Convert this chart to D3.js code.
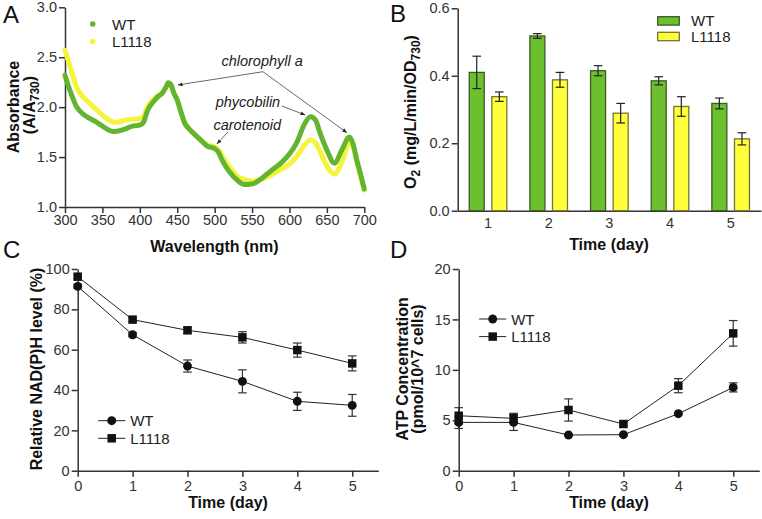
<!DOCTYPE html>
<html><head><meta charset="utf-8">
<script src="https://cdn.jsdelivr.net/npm/d3@7"></script>
<style>body{margin:0;background:#fff}text{font-family:'Liberation Sans',Arial,Helvetica,sans-serif}</style>
</head><body>
<svg id="chart" width="762" height="519"></svg>
<script>
// ---------- Panel A data ----------
const wavelengths = [300,305,310,315,320,330,340,350,360,365,370,380,390,400,405,410,420,425,430,435,438,442,445,450,455,460,465,470,480,490,500,505,510,520,530,540,550,560,570,580,590,600,610,620,628,635,640,650,660,670,680,685,690,695,700];
const absWT =    [2.32,2.20,2.10,2.01,1.96,1.90,1.86,1.81,1.765,1.755,1.76,1.78,1.81,1.82,1.85,1.96,2.07,2.11,2.14,2.20,2.245,2.22,2.15,2.07,1.95,1.84,1.79,1.75,1.68,1.61,1.585,1.55,1.47,1.35,1.27,1.225,1.23,1.27,1.33,1.39,1.45,1.53,1.65,1.83,1.905,1.87,1.76,1.57,1.44,1.57,1.70,1.63,1.47,1.33,1.18];
const absL1118 = [2.57,2.45,2.33,2.21,2.14,2.06,1.99,1.92,1.865,1.85,1.85,1.87,1.88,1.885,1.91,2.00,2.09,2.12,2.14,2.20,2.24,2.21,2.15,2.07,1.95,1.84,1.79,1.75,1.68,1.625,1.60,1.57,1.51,1.40,1.31,1.275,1.26,1.27,1.30,1.34,1.385,1.43,1.51,1.62,1.67,1.64,1.57,1.41,1.33,1.45,1.65,1.60,1.45,1.30,1.17];
const specTicksX = [300,350,400,450,500,550,600,650,700];
const specTicksY = [1.0,1.5,2.0,2.5,3.0];
const annotations = [
  {text:"chlorophyll a", tx:563.5, ty:2.412, anchor:"middle", arrows:[[564.5,2.355,450.8,2.222],[564.5,2.355,676.9,1.744]]},
  {text:"phycobilin", tx:587.6, ty:2.006, anchor:"end", arrows:[[589.9,2.012,621.1,1.921]]},
  {text:"carotenoid", tx:498.4, ty:1.771, anchor:"start", arrows:[[518.1,1.754,503,1.631]]}
];
// ---------- Panel B data ----------
const days = ["1","2","3","4","5"];
const o2WT = [0.41,0.518,0.415,0.385,0.318];
const o2WTerr = [0.048,0.007,0.015,0.012,0.016];
const o2L1118 = [0.338,0.388,0.289,0.309,0.213];
const o2L1118err = [0.014,0.022,0.029,0.029,0.018];
const o2Ticks = [0.0,0.2,0.4,0.6];
// ---------- Panel C data ----------
const timeDays = [0,1,2,3,4,5];
const nadWT = [91.4,67.4,51.9,44.3,34.4,32.4];
const nadWTerr = [1.0,1.0,3.0,5.7,4.5,5.4];
const nadL1118 = [96.2,74.9,69.6,66.1,59.8,53.2];
const nadL1118err = [1.0,1.0,1.5,2.8,3.5,3.7];
const nadTicks = [0,20,40,60,80,100];
// ---------- Panel D data ----------
const atpWT = [4.79,4.79,3.54,3.57,5.65,8.26];
const atpWTerr = [0.6,0.8,0.1,0.1,0.1,0.45];
const atpL1118 = [5.45,5.19,6.02,4.63,8.43,13.62];
const atpL1118err = [0.8,0.5,1.1,0.2,0.7,1.27];
const atpTicks = [0,5,10,15,20];

const green = "#63b52f", yellow = "#f4f43a";
const axisColor = "#333";
const svg = d3.select("#chart");

svg.append("defs").append("marker").attr("id","arr").attr("viewBox","0 0 10 10")
  .attr("refX",10).attr("refY",5).attr("markerWidth",6).attr("markerHeight",6).attr("orient","auto")
  .append("path").attr("d","M0,1L10,5L0,9Z").attr("fill","#222");

function styleAxis(g){
  g.selectAll("path,line").attr("stroke",axisColor).attr("stroke-width",1.5);
  g.selectAll("text").attr("fill","#333").attr("font-size","14.5px")
    .attr("font-family","'Liberation Sans',Arial,sans-serif");
}
function panelLetter(t,x,y){
  svg.append("text").attr("x",x).attr("y",y).attr("font-size","24px").attr("fill","#111").text(t);
}
function xTitle(t,x,y){
  svg.append("text").attr("x",x).attr("y",y).attr("text-anchor","middle").attr("font-size","16px")
    .attr("font-weight","bold").attr("fill","#111").text(t);
}

// ================= Panel A =================
{
  const x = d3.scaleLinear().domain([300,700]).range([65,364.3]);
  const y = d3.scaleLinear().domain([1,3]).range([207,7.3]);
  const ga = svg.append("g").attr("transform","translate(0,207)")
    .call(d3.axisBottom(x).tickValues(specTicksX).tickSize(6).tickPadding(2).tickSizeOuter(0));
  styleAxis(ga);
  const gl = svg.append("g").attr("transform","translate(65,0)")
    .call(d3.axisLeft(y).tickValues(specTicksY).tickFormat(d3.format(".1f")).tickSize(6).tickPadding(2).tickSizeOuter(0));
  styleAxis(gl);
  const line = d3.line().x((d,i)=>x(wavelengths[i])).y(d=>y(d)).curve(d3.curveMonotoneX);
  svg.append("path").datum(absL1118).attr("d",line).attr("fill","none").attr("stroke",yellow)
    .attr("stroke-width",5).attr("stroke-linecap","round").attr("stroke-linejoin","round");
  svg.append("path").datum(absWT).attr("d",line).attr("fill","none").attr("stroke",green)
    .attr("stroke-width",5).attr("stroke-linecap","round").attr("stroke-linejoin","round");
  // annotations
  annotations.forEach(a=>{
    svg.append("text").attr("x",x(a.tx)).attr("y",y(a.ty)).attr("text-anchor",a.anchor)
      .attr("font-size","14.5px").attr("font-style","italic").attr("fill","#222").text(a.text);
    a.arrows.forEach(r=>{
      svg.append("line").attr("x1",x(r[0])).attr("y1",y(r[1])).attr("x2",x(r[2])).attr("y2",y(r[3]))
        .attr("stroke","#444").attr("stroke-width",0.8).attr("marker-end","url(#arr)");
    });
  });
  // legend
  [["WT",green,24],["L1118",yellow,41.5]].forEach(([t,c,yy])=>{
    svg.append("circle").attr("cx",92.7).attr("cy",yy).attr("r",2.8).attr("fill",c);
    svg.append("text").attr("x",112).attr("y",yy+5.5).attr("font-size","15px").attr("fill","#222").text(t);
  });
  xTitle("Wavelength (nm)",214.5,251.5);
  const yt = svg.append("g").attr("transform","rotate(-90)");
  yt.append("text").attr("x",-107).attr("y",18.5).attr("text-anchor","middle").attr("font-size","16px")
    .attr("font-weight","bold").attr("fill","#111").text("Absorbance");
  const t2 = yt.append("text").attr("x",-105).attr("y",34.5).attr("text-anchor","middle").attr("font-size","16px")
    .attr("font-weight","bold").attr("fill","#111");
  t2.append("tspan").text("(A/A");
  t2.append("tspan").attr("font-size","12px").attr("dy",4).text("730");
  t2.append("tspan").attr("dy",-4).text(")");
  panelLetter("A",3,23);
}

// ================= Panel B =================
{
  const x = d3.scaleBand().domain(days).range([457.7,761]);
  const y = d3.scaleLinear().domain([0,0.6]).range([210.7,8.3]);
  const bw = 15, gap = 3.8;
  const gb = svg.append("g").attr("transform","translate(0,210.7)")
    .call(d3.axisBottom(x).tickSize(0).tickPadding(7));
  styleAxis(gb);
  const gl = svg.append("g").attr("transform","translate(457.7,0)")
    .call(d3.axisLeft(y).tickValues(o2Ticks).tickFormat(d3.format(".1f")).tickSize(6).tickPadding(2).tickSizeOuter(0));
  styleAxis(gl);
  const cx = d=>x(d)+x.bandwidth()/2;
  const series = [
    {vals:o2WT, err:o2WTerr, fill:"#6cbf2f", stroke:"#3f5a28", off:-gap-bw},
    {vals:o2L1118, err:o2L1118err, fill:"#ffff3c", stroke:"#74743a", off:gap}
  ];
  series.forEach(s=>{
    svg.append("g").selectAll("rect").data(days).join("rect")
      .attr("x",d=>cx(d)+s.off).attr("width",bw)
      .attr("y",(d,i)=>y(s.vals[i])).attr("height",(d,i)=>y(0)-y(s.vals[i]))
      .attr("fill",s.fill).attr("stroke",s.stroke).attr("stroke-width",1.3);
    const eg = svg.append("g").attr("stroke","#222").attr("stroke-width",1.2);
    days.forEach((d,i)=>{
      const mx = cx(d)+s.off+bw/2;
      eg.append("line").attr("x1",mx).attr("x2",mx).attr("y1",y(s.vals[i]-s.err[i])).attr("y2",y(s.vals[i]+s.err[i]));
      [s.vals[i]-s.err[i], s.vals[i]+s.err[i]].forEach(v=>{
        eg.append("line").attr("x1",mx-4.3).attr("x2",mx+4.3).attr("y1",y(v)).attr("y2",y(v));
      });
    });
  });
  // legend
  [["WT","#6cbf2f","#3f5a28",16.7],["L1118","#ffff3c","#74743a",32.3]].forEach(([t,f,s,yy])=>{
    svg.append("rect").attr("x",657.7).attr("y",yy).attr("width",21.6).attr("height",8.4)
      .attr("fill",f).attr("stroke",s).attr("stroke-width",1.3);
    svg.append("text").attr("x",691).attr("y",yy+9.5).attr("font-size","15px").attr("fill","#222").text(t);
  });
  xTitle("Time (day)",609,249.5);
  const yt = svg.append("g").attr("transform","rotate(-90)");
  const t = yt.append("text").attr("x",-112).attr("y",416).attr("text-anchor","middle").attr("font-size","16px")
    .attr("font-weight","bold").attr("fill","#111");
  t.append("tspan").text("O");
  t.append("tspan").attr("font-size","12px").attr("dy",4).text("2");
  t.append("tspan").attr("dy",-4).text(" (mg/L/min/OD");
  t.append("tspan").attr("font-size","12px").attr("dy",4).text("730");
  t.append("tspan").attr("dy",-4).text(")");
  panelLetter("B",390,22);
}

// ================= Panels C & D =================
function linePanel(opt){
  const x = d3.scaleLinear().domain([0,5.475]).range([opt.x0, opt.x0+300.6]);
  const y = d3.scaleLinear().domain([0,opt.ymax]).range([470.7,269]);
  const gb = svg.append("g").attr("transform","translate(0,470.7)")
    .call(d3.axisBottom(x).tickValues(timeDays).tickFormat(d3.format("d")).tickSize(6).tickPadding(4).tickSizeOuter(0));
  styleAxis(gb);
  const gl = svg.append("g").attr("transform",`translate(${opt.x0},0)`)
    .call(d3.axisLeft(y).tickValues(opt.ticks).tickSize(6).tickPadding(2).tickSizeOuter(0));
  styleAxis(gl);
  const ln = d3.line().x((d,i)=>x(timeDays[i])).y(d=>y(d));
  const sers = [
    {v:opt.wt, e:opt.wtErr, shape:"circle"},
    {v:opt.l, e:opt.lErr, shape:"square"}
  ];
  sers.forEach(s=>{
    svg.append("path").datum(s.v).attr("d",ln).attr("fill","none").attr("stroke","#222").attr("stroke-width",1);
  });
  sers.forEach(s=>{
    const eg = svg.append("g").attr("stroke","#333").attr("stroke-width",1.2);
    timeDays.forEach((d,i)=>{
      const mx = x(d), lo = y(s.v[i]-s.e[i]), hi = y(s.v[i]+s.e[i]);
      eg.append("line").attr("x1",mx).attr("x2",mx).attr("y1",lo).attr("y2",hi);
      [lo,hi].forEach(yy=>eg.append("line").attr("x1",mx-4.3).attr("x2",mx+4.3).attr("y1",yy).attr("y2",yy));
    });
  });
  sers.forEach(s=>{
    const sym = d3.symbol().type(s.shape==="circle"?d3.symbolCircle:d3.symbolSquare).size(s.shape==="circle"?62:72);
    svg.append("g").selectAll("path").data(s.v).join("path")
      .attr("transform",(d,i)=>`translate(${x(timeDays[i])},${y(d)})`).attr("d",sym).attr("fill","#111");
  });
  // legend
  [["WT",d3.symbolCircle,62,opt.ly],["L1118",d3.symbolSquare,72,opt.ly+17.6]].forEach(([t,sy,sz,yy])=>{
    svg.append("line").attr("x1",opt.lx-13.5).attr("x2",opt.lx+13.5).attr("y1",yy).attr("y2",yy).attr("stroke","#222").attr("stroke-width",1);
    svg.append("path").attr("transform",`translate(${opt.lx},${yy})`).attr("d",d3.symbol().type(sy).size(sz)()).attr("fill","#111");
    svg.append("text").attr("x",opt.lx+18.5).attr("y",yy+5.5).attr("font-size","15px").attr("fill","#222").text(t);
  });
  xTitle("Time (day)",opt.x0+150.3,508);
  const yt = svg.append("g").attr("transform","rotate(-90)");
  opt.ytitle.forEach((tt,k)=>{
    yt.append("text").attr("x",-369).attr("y",opt.tx[k]).attr("text-anchor","middle").attr("font-size","16px")
      .attr("font-weight","bold").attr("fill","#111").text(tt);
  });
  panelLetter(opt.letter,opt.letterX,258);
}
linePanel({x0:77.7, ymax:100, ticks:nadTicks, wt:nadWT, wtErr:nadWTerr, l:nadL1118, lErr:nadL1118err,
  lx:111.7, ly:420.7, ytitle:["Relative NAD(P)H level (%)"], tx:[42], letter:"C", letterX:3});
linePanel({x0:458.7, ymax:20, ticks:atpTicks, wt:atpWT, wtErr:atpWTerr, l:atpL1118, lErr:atpL1118err,
  lx:492.7, ly:319, ytitle:["ATP Concentration","(pmol/10^7 cells)"], tx:[407.5,422.5], letter:"D", letterX:390});
</script>
</body></html>
